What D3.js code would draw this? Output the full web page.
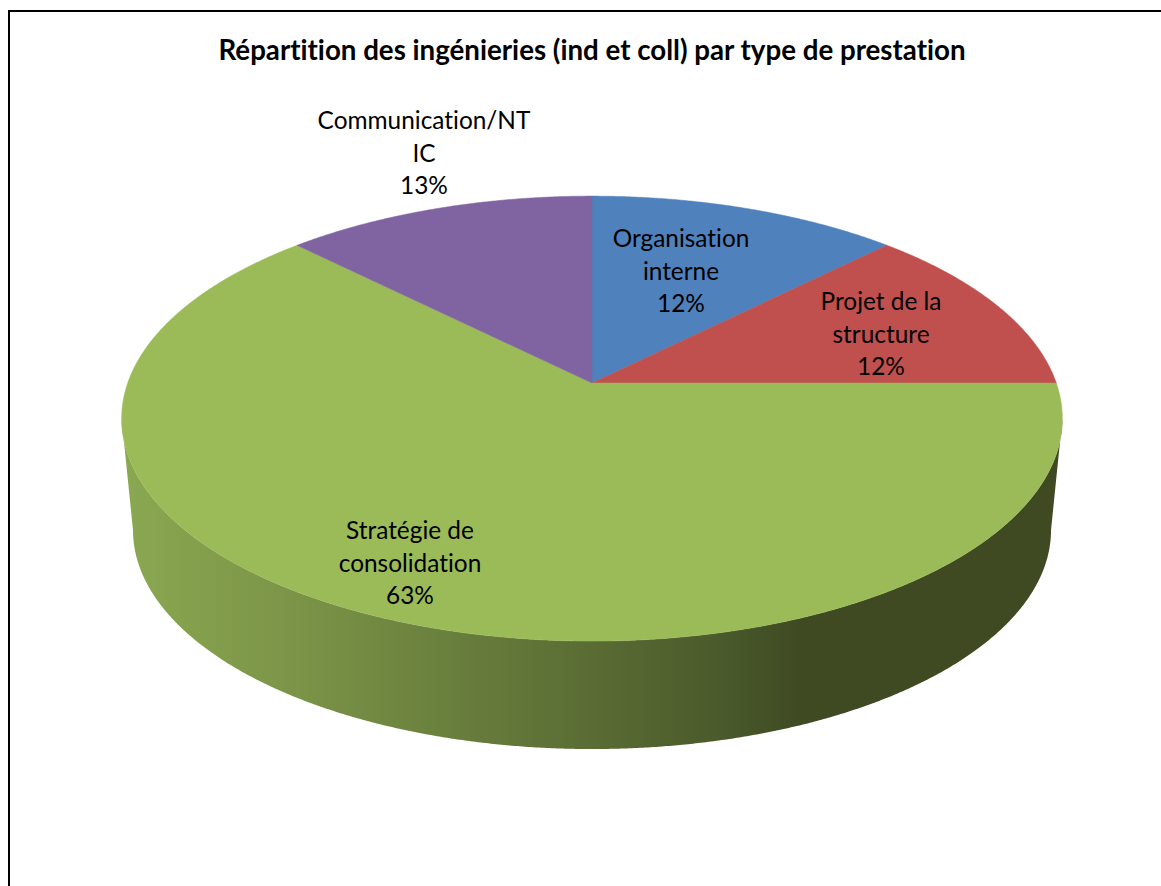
<!DOCTYPE html>
<html>
<head>
<meta charset="utf-8">
<script src="https://cdn.jsdelivr.net/npm/d3@7"></script>
<style>
html,body{margin:0;padding:0;background:#fff;overflow:hidden}
svg{display:block}
text{font-family:Lato,"Open Sans",sans-serif;fill:#000;font-variant-ligatures:none}
</style>
</head>
<body>
<svg id="c" width="1161" height="886"></svg>
<script>
const chartTitle = "Répartition des ingénieries (ind et coll) par type de prestation";
const categories = ["Organisation interne", "Projet de la structure", "Stratégie de consolidation", "Communication/NTIC"];
const sliceValues = [1, 1, 5, 1];
const percentLabels = ["12%", "12%", "63%", "13%"];
const labelLines = [["Organisation", "interne"], ["Projet de la", "structure"], ["Stratégie de", "consolidation"], ["Communication/NT", "IC"]];
const sliceColors = ["#4f81bd", "#c0504d", "#9bbb59", "#8064a2"];
const wallStops = [[122, "#8aa851"], [300, "#7b9347"], [450, "#697f3d"], [600, "#596b33"], [720, "#4a5a2b"], [800, "#3f4a23"], [1062, "#3f4a23"]];

const labelLayout = [[681, 247], [881, 310], [410, 539], [424, 129]];
const lineStep = 32.5;

const svg = d3.select("#c");
const W = 1161, H = 886;

// perspective projection of a disc: angle (0 = back, clockwise) to screen
function disc(cx, cy, a, b, k) {
  return t => {
    const u = Math.sin(t), v = -Math.cos(t), d = 1 - k * v;
    return [cx + b * u / d, cy + a * v / d];
  };
}
const topK = 0.16, baseK = 0.1575;
const topDisc = disc(592, 383, 216.8, 464.3, topK);
const baseDisc = disc(592, 495.5, 213.6, 453.3, baseK);

const line = d3.line();
const arcPts = (f, a0, a1) => {
  const n = Math.max(2, Math.ceil(Math.abs(a1 - a0) / 0.005));
  return d3.range(n + 1).map(i => f(a0 + (a1 - a0) * i / n));
};

// frame
svg.append("path")
  .attr("d", line([[9, H], [9, 11], [W, 11]]))
  .attr("fill", "none").attr("stroke", "#000").attr("stroke-width", 2);

// gradient of the wall
const gx = d3.scaleLinear().domain([wallStops[0][0], wallStops[wallStops.length - 1][0]]).range([0, 1]);
const grad = svg.append("defs").append("linearGradient")
  .attr("id", "wall").attr("gradientUnits", "userSpaceOnUse")
  .attr("x1", wallStops[0][0]).attr("x2", wallStops[wallStops.length - 1][0])
  .attr("y1", 0).attr("y2", 0);
grad.selectAll("stop").data(wallStops).join("stop")
  .attr("offset", d => gx(d[0])).attr("stop-color", d => d[1]);

const pie = d3.pie().sort(null).value(d => d);
const arcs = pie(sliceValues);

// wall, front part only, between the silhouette tangents of both discs
const tan = k => Math.PI / 2 + Math.asin(k);
svg.append("path")
  .attr("d", line(
    arcPts(topDisc, tan(topK), 2 * Math.PI - tan(topK))
      .concat(arcPts(baseDisc, 2 * Math.PI - tan(baseK), tan(baseK)))) + "Z")
  .attr("fill", "url(#wall)");

// top faces
svg.selectAll("path.slice").data(arcs).join("path")
  .attr("class", "slice")
  .attr("d", d => line([[592, 383]].concat(arcPts(topDisc, d.startAngle, d.endAngle))) + "Z")
  .attr("fill", (d, i) => sliceColors[i])
  .attr("stroke", (d, i) => sliceColors[i]).attr("stroke-width", 0.5);

// title
svg.append("text").attr("x", 592).attr("y", 60)
  .attr("text-anchor", "middle").attr("font-size", 27.7).attr("font-weight", 700)
  .text(chartTitle);

// labels
const lab = svg.selectAll("g.lab").data(categories).join("g").attr("class", "lab");
lab.each(function (c, i) {
  const g = d3.select(this);
  const lines = labelLines[i].concat(percentLabels[i]);
  g.selectAll("text").data(lines).join("text")
    .attr("x", labelLayout[i][0])
    .attr("y", (d, j) => labelLayout[i][1] + j * lineStep)
    .attr("text-anchor", "middle").attr("font-size", 24.4)
    .text(d => d);
});
</script>
</body>
</html>
